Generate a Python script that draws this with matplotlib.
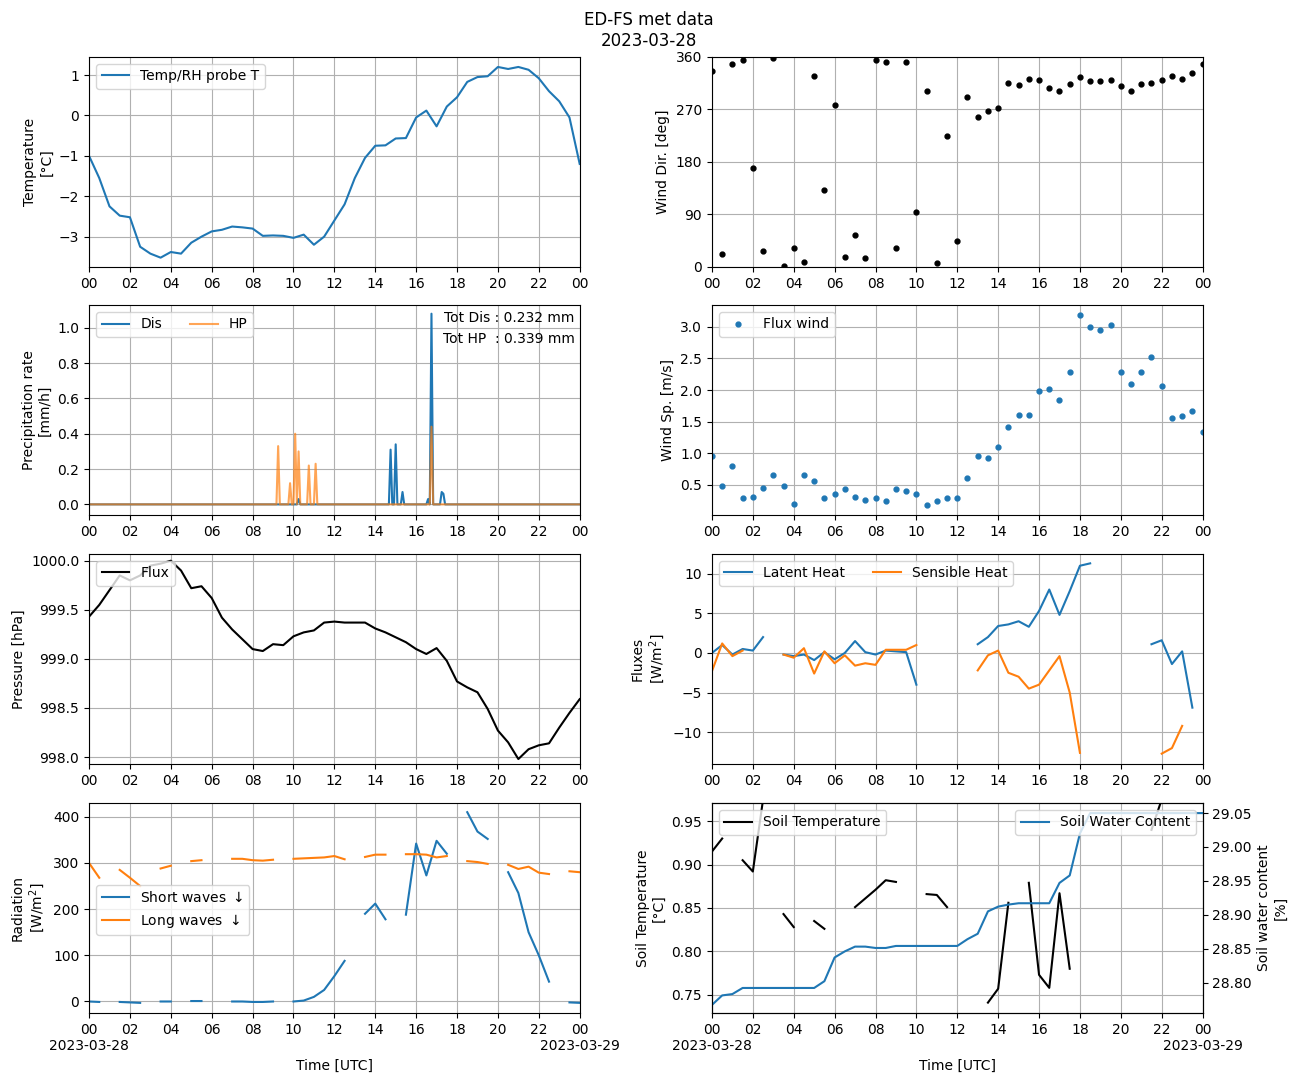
import numpy as np
import matplotlib
matplotlib.use("Agg")
import matplotlib.pyplot as plt

nan = np.nan
hours = np.arange(49) * 0.5

temp = [-1.0,-1.55,-2.25,-2.48,-2.52,-3.25,-3.42,-3.52,-3.38,-3.42,-3.15,-3.0,-2.87,-2.83,-2.75,-2.77,-2.8,-2.98,-2.97,-2.98,-3.03,-2.95,-3.2,-3.0,-2.6,-2.2,-1.55,-1.05,-0.75,-0.74,-0.57,-0.56,-0.05,0.12,-0.27,0.22,0.45,0.83,0.95,0.97,1.2,1.15,1.2,1.13,0.92,0.6,0.35,-0.05,-1.2]
wdir = [335,22,348,355,170,28,358,2,33,8,328,132,278,17,55,15,355,352,33,352,95,302,7,225,45,292,257,268,272,316,311,322,321,307,302,313,325,319,319,320,310,302,313,315,320,328,322,333,348]
wspd = [0.95,0.48,0.8,0.29,0.3,0.45,0.65,0.48,0.19,0.65,0.56,0.29,0.35,0.43,0.3,0.26,0.29,0.24,0.43,0.4,0.35,0.18,0.24,0.29,0.29,0.61,0.95,0.93,1.1,1.42,1.61,1.6,1.98,2.01,1.85,2.28,3.19,3.0,2.95,3.03,2.28,2.1,2.29,2.53,2.06,1.56,1.59,1.67,1.34]
pres = [999.43,999.55,999.7,999.85,999.8,999.85,999.95,999.97,1000.0,999.9,999.72,999.74,999.62,999.42,999.3,999.2,999.1,999.08,999.15,999.14,999.23,999.27,999.29,999.37,999.38,999.37,999.37,999.37,999.31,999.27,999.22,999.17,999.1,999.05,999.11,998.98,998.77,998.71,998.66,998.49,998.27,998.15,997.98,998.08,998.12,998.14,998.3,998.45,998.59]
latent = [0.0,1.0,-0.2,0.5,0.3,2.0,nan,-0.2,-0.4,-0.2,-0.9,0.1,-0.8,0.0,1.5,0.1,-0.2,0.3,0.2,0.1,-4.0,nan,nan,nan,nan,nan,1.1,2.0,3.4,3.6,4.0,3.3,5.3,8.0,4.8,7.8,11.0,11.3,nan,nan,nan,nan,nan,1.1,1.6,-1.4,0.2,-6.9,nan]
sensible = [-2.3,1.2,-0.4,0.3,nan,nan,nan,-0.2,-0.6,0.6,-2.6,0.2,-1.3,-0.3,-1.6,-1.3,-1.5,0.4,0.4,0.4,1.0,nan,nan,nan,nan,nan,-2.2,-0.3,0.3,-2.5,-3.0,-4.5,-4.0,-2.2,-0.4,-5.0,-12.6,nan,nan,nan,nan,nan,nan,nan,-12.7,-12.0,-9.2,nan,nan]
sw = [0,-1,nan,-1,-2,-3,nan,0,0,nan,1,1,nan,nan,0,0,-1,-1,0,nan,0,2,10,25,55,88,nan,190,212,178,nan,188,342,273,348,320,nan,410,368,352,nan,280,235,150,100,43,nan,-2,-3]
lw = [300,268,nan,285,268,250,nan,288,294,nan,304,306,nan,nan,309,309,306,305,307,nan,309,310,311,312,315,308,nan,313,318,318,nan,319,319,318,312,315,nan,304,302,298,nan,296,287,292,279,276,nan,282,280]
soil_t = [0.915,0.93,nan,0.905,0.892,0.975,nan,0.843,0.828,nan,0.835,0.826,nan,nan,0.851,0.861,0.871,0.882,0.880,nan,nan,0.866,0.865,0.851,nan,nan,nan,0.741,0.757,0.856,nan,0.879,0.773,0.758,0.867,0.780,nan,nan,nan,nan,nan,nan,nan,0.94,0.975,nan,nan,nan,nan]
swc = [28.767,28.781,28.783,28.792,28.792,28.792,28.792,28.792,28.792,28.792,28.792,28.802,28.837,28.846,28.853,28.853,28.851,28.851,28.854,28.854,28.854,28.854,28.854,28.854,28.854,28.864,28.872,28.905,28.912,28.915,28.917,28.917,28.917,28.917,28.947,28.958,29.02,29.05,29.05,29.05,29.05,29.05,29.05,29.05,29.05,29.05,29.05,29.05,29.05]

# precipitation: 5-minute grid, spikes (hour, value)
dis_spikes = [(10.25,0.03),(14.75,0.31),(15.0,0.34),(15.33,0.07),(16.58,0.03),(16.75,1.08),(17.25,0.07),(17.33,0.06)]
hp_spikes = [(9.25,0.33),(9.83,0.12),(10.08,0.40),(10.25,0.30),(10.75,0.22),(11.08,0.23),(16.75,0.44)]
ph = np.arange(289) / 12.0
dis = np.zeros(289); hp = np.zeros(289)
for h, v in dis_spikes: dis[int(round(h*12))] = v
for h, v in hp_spikes: hp[int(round(h*12))] = v

fig = plt.figure(figsize=(12.98, 10.83), dpi=100)
fig.suptitle("ED-FS met data\n2023-03-28", y=0.99, fontsize=12)
L, R, W, H = 0.0686, 0.5485, 0.378, 0.194
B = [0.7535, 0.5245, 0.2946, 0.0646]
def mk(x, b):
    ax = fig.add_axes([x, b, W, H])
    ax.set_xlim(0, 24)
    ax.set_xticks(np.arange(0, 25, 2))
    ax.set_xticklabels(["%02d" % (h % 24) for h in range(0, 25, 2)])
    ax.grid(True)
    return ax

ax = mk(L, B[0])
ax.plot(hours, temp, label="Temp/RH probe T")
ax.set_ylim(-3.75, 1.45); ax.set_ylabel("Temperature\n[°C]"); ax.legend(loc="upper left")

ax = mk(R, B[0])
ax.plot(hours, wdir, 'k.', ms=7)
ax.set_ylim(0, 360); ax.set_yticks([0, 90, 180, 270, 360]); ax.set_ylabel("Wind Dir. [deg]")

ax = mk(L, B[1])
ax.plot(ph, dis, label="Dis")
ax.plot(ph, hp, label="HP", alpha=0.7)
ax.set_ylim(-0.06, 1.13); ax.set_ylabel("Precipitation rate\n[mm/h]")
ax.legend(loc="upper left", ncol=2)
ax.text(0.99, 0.97, "Tot Dis : 0.232 mm\nTot HP  : 0.339 mm", transform=ax.transAxes, ha="right", va="top", linespacing=1.6)

ax = mk(R, B[1])
ax.plot(hours, wspd, '.', ms=7, label="Flux wind")
ax.set_ylim(0.02, 3.35); ax.set_ylabel("Wind Sp. [m/s]"); ax.legend(loc="upper left")

ax = mk(L, B[2])
ax.plot(hours, pres, 'k', label="Flux")
ax.set_ylim(997.93, 1000.07); ax.set_ylabel("Pressure [hPa]"); ax.legend(loc="upper left")

ax = mk(R, B[2])
ax.plot(hours, latent, label="Latent Heat")
ax.plot(hours, sensible, label="Sensible Heat")
ax.set_ylim(-14, 12.5); ax.set_ylabel("Fluxes\n[W/m$^2$]"); ax.legend(loc="upper left", ncol=2)

def bottom(ax):
    labs = ["%02d" % (h % 24) for h in range(0, 25, 2)]
    labs[0] = "00\n2023-03-28"; labs[-1] = "00\n2023-03-29"
    ax.set_xticklabels(labs); ax.set_xlabel("Time [UTC]")

ax = mk(L, B[3])
ax.plot(hours, sw, label="Short waves $\\downarrow$")
ax.plot(hours, lw, label="Long waves $\\downarrow$")
ax.set_ylim(-25, 430); ax.set_ylabel("Radiation\n[W/m$^2$]"); ax.legend(loc="center left", bbox_to_anchor=(0, 0.49))
bottom(ax)

ax = mk(R, B[3])
ax.plot(hours, soil_t, 'k', label="Soil Temperature")
ax.set_ylim(0.729, 0.971); ax.set_ylabel("Soil Temperature\n[°C]"); ax.legend(loc="upper left")
bottom(ax)
ax2 = ax.twinx()
ax2.plot(hours, swc, label="Soil Water Content")
ax2.set_ylim(28.755, 29.065); ax2.set_ylabel("Soil water content\n[%]"); ax2.legend(loc="upper right")
ax2.set_xlim(0, 24)

fig.savefig("out.png", dpi=100)
